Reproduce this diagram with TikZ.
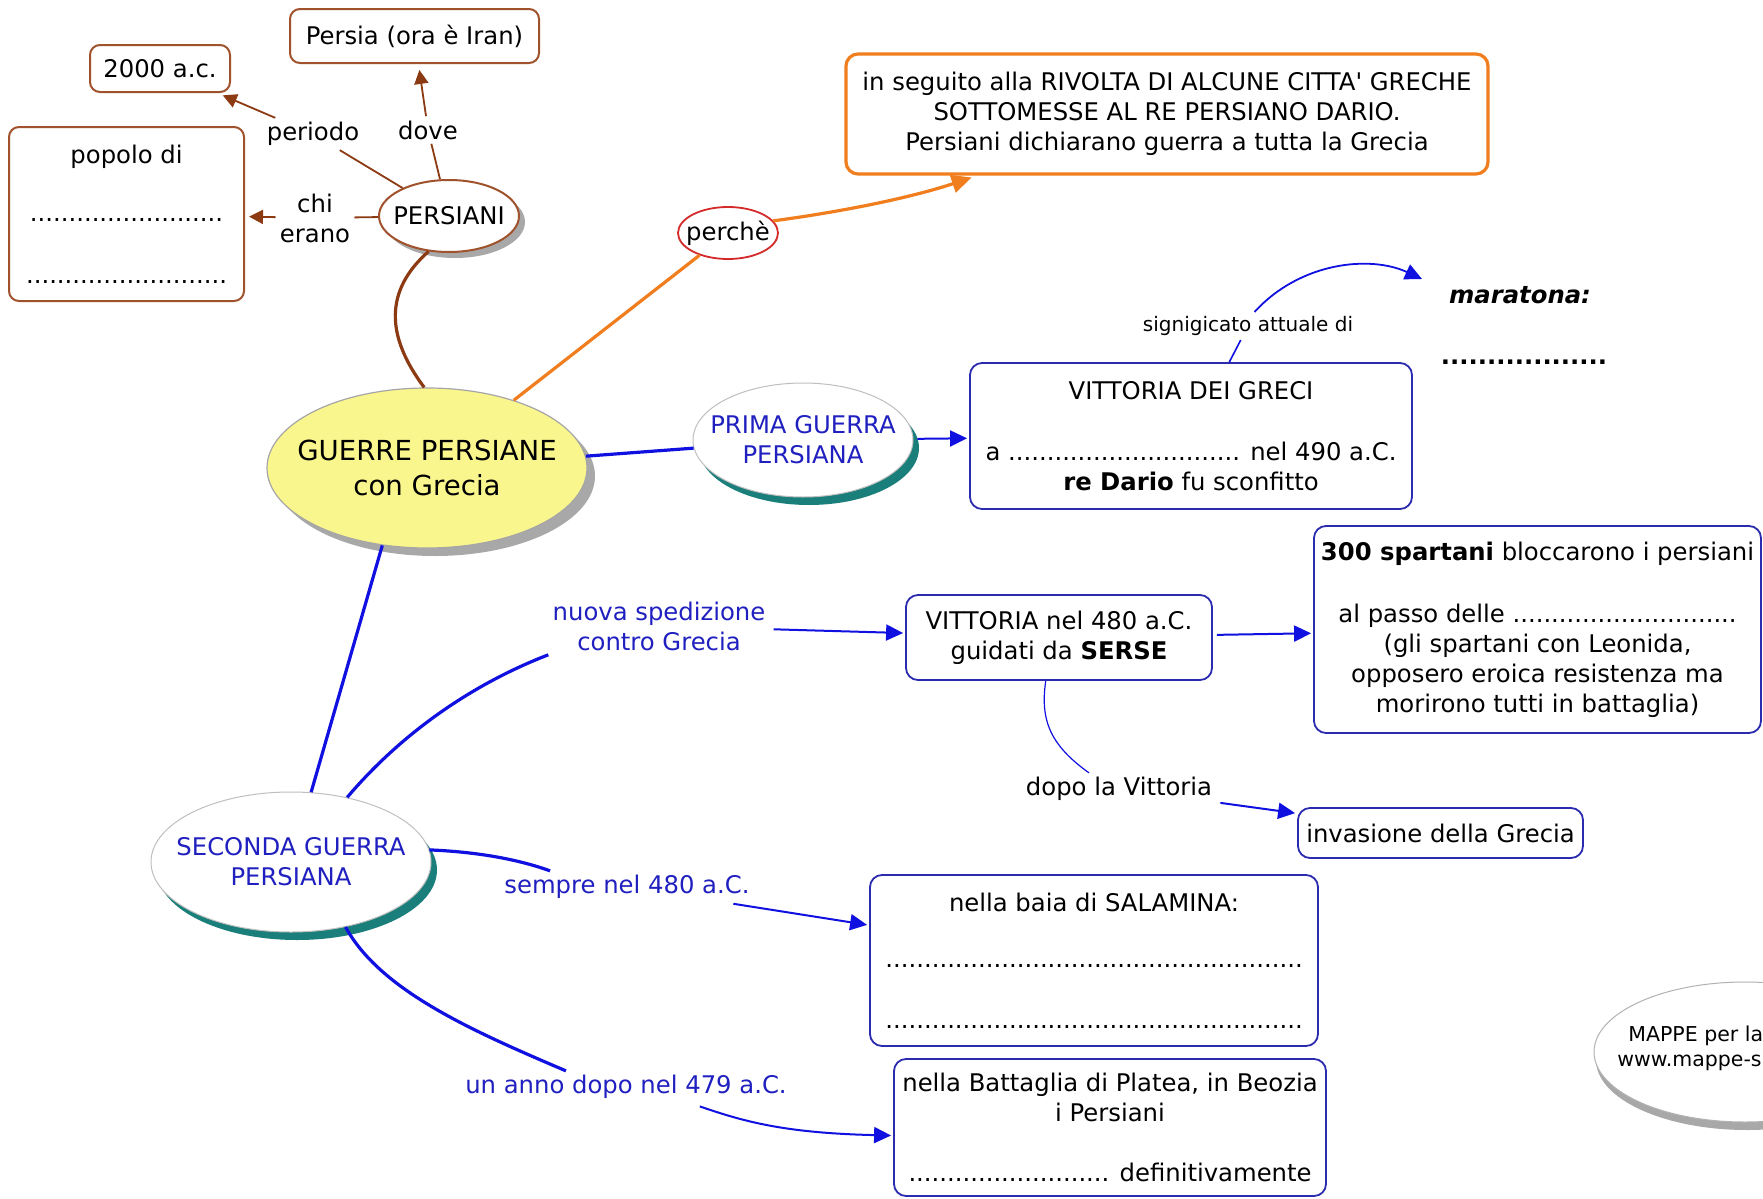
\documentclass[tikz,border=0pt]{standalone}
\usepackage{fontspec}
\setmainfont{DejaVu Sans}
\newfontfamily\rawq{DejaVu Sans}[Ligatures=TeXOff]
\usetikzlibrary{shapes.geometric,arrows.meta,shadows,calc}
\definecolor{brn}{HTML}{8B3A12}
\definecolor{brnbox}{HTML}{A0522D}
\definecolor{org}{HTML}{F07D1E}
\definecolor{redc}{HTML}{D42A2A}
\definecolor{bluel}{HTML}{1010E0}
\definecolor{blueb}{HTML}{2B2BB0}
\definecolor{bluet}{HTML}{2020C0}
\definecolor{yel}{HTML}{FAF68E}
\definecolor{tealsh}{HTML}{1A7F7A}
\definecolor{shgrey}{HTML}{A8A8A8}
\begin{document}
\begin{tikzpicture}[x=0.5pt,y=-0.5pt,
 every node/.style={font=\fontsize{12.15pt}{15pt}\selectfont, inner sep=0pt},
 brownbox/.style={draw=brnbox, line width=1pt, rounded corners=5pt, fill=white, align=center},
 bluebox/.style={draw=blueb, line width=0.9pt, rounded corners=6pt, fill=white, align=center},
 lbl/.style={inner sep=2pt, align=center},
 blbl/.style={lbl, text=bluet},
 bline/.style={draw=bluel, line width=1.6pt},
 barrow/.style={draw=bluel, line width=1pt, -{Triangle[length=8.5pt,width=8pt]}, shorten <=2pt, shorten >=1pt},
 brline/.style={draw=brn, line width=0.9pt},
 brarrow/.style={brline, -{Triangle[length=7pt,width=7pt]}},
 greyshadow/.style={drop shadow={shadow xshift=3pt, shadow yshift=-3pt, fill=shgrey, opacity=1}},
 tealshadow/.style={drop shadow={shadow xshift=3pt, shadow yshift=-4pt, fill=tealsh, opacity=1}},
]
\path[use as bounding box, fill=white] (0,0) rectangle (1763,1199);

% ---------- brown part ----------
\node[brownbox, minimum width=70pt, minimum height=23.5pt] (b2000) at (160,68.5) {2000 a.c.};
\node[brownbox, minimum width=124.5pt, minimum height=27pt] (persia) at (414.5,36) {Persia (ora è Iran)};
\node[brownbox, minimum width=117.5pt, minimum height=87pt] (popolo) at (126.5,214)
  {popolo di\\[14pt] .........................\\[16pt] ..........................};
\node[ellipse, draw=brnbox, line width=1pt, fill=white, minimum width=70pt, minimum height=36pt, inner xsep=-5pt, greyshadow] (persiani) at (449,216) {PERSIANI};
\node[lbl] (periodo) at (313,134) {periodo};
\node[lbl] (dove) at (428,130) {dove};
\node[lbl] (chi) at (315,218) {chi\\erano};

\draw[brline] (persiani) -- (periodo);
\draw[brarrow, shorten >=3pt] (periodo) -- (b2000);
\draw[brline] (persiani) -- (dove);
\draw[brarrow, shorten >=3pt] (dove) -- (persia);
\draw[brline] (persiani) -- (chi);
\draw[brarrow, shorten >=2pt] (chi) -- (popolo);

% ---------- central ----------
\node[ellipse, draw=gray!70, line width=0.6pt, fill=yel, minimum width=160pt, minimum height=80pt, inner xsep=-11pt,
  drop shadow={shadow xshift=4pt, shadow yshift=-4pt, fill=shgrey, opacity=1},
  align=center, font=\fontsize{13.8pt}{17.5pt}\selectfont] (guerre) at (427,468) {GUERRE PERSIANE\\con Grecia};

\draw[brn, line width=1.6pt] (persiani.240) .. controls (385,290) and (385,335) .. (guerre.92);

% ---------- orange ----------
\node[ellipse, draw=redc, line width=0.9pt, fill=white, minimum width=50pt, minimum height=26pt, inner xsep=-5pt] (perche) at (728,233) {perchè};
\node[draw=org, line width=1.6pt, rounded corners=6pt, fill=white, align=center, minimum width=321pt, minimum height=60pt] (orange) at (1167,114)
  {in seguito alla RIVOLTA DI ALCUNE CITTA{\rawq '} GRECHE\\ SOTTOMESSE AL RE PERSIANO DARIO.\\ Persiani dichiarano guerra a tutta la Grecia};
\draw[org, line width=1.6pt] (guerre) -- (perche);
\draw[org, line width=1.6pt, -{Triangle[length=10pt,width=9pt]}, shorten >=3pt] (perche.15) .. controls (840,212) and (910,198) .. (orange.198);

% ---------- prima guerra ----------
\node[ellipse, draw=gray!50, line width=0.5pt, fill=white, minimum width=110pt, minimum height=57pt, inner xsep=-10pt, tealshadow, align=center, text=bluet] (prima) at (803,440) {PRIMA GUERRA\\PERSIANA};
\node[bluebox, minimum width=221pt, minimum height=73pt] (greci) at (1191,436)
  {VITTORIA DEI GRECI\\[15.5pt] a .............................. nel 490 a.C.\\ \textbf{re Dario} fu sconfitto};
\node[lbl, font=\fontsize{10pt}{12pt}\selectfont] (sig) at (1248,326) {signigicato attuale di};
\node (maratona) at (1520,295) {\textbf{\textit{maratona:}}};
\node (mdots) at (1524,362) {\textbf{..................}};
\coordinate (mtip) at (1422,279);

\draw[bline] (guerre) -- (prima);
\draw[barrow] (prima) -- (greci);
\draw[bluel, line width=0.8pt] (greci) -- (sig);
\draw[bluel, line width=0.9pt, -{Triangle[length=8.5pt,width=8pt]}] (sig.65) .. controls (1300,262) and (1370,255) .. (mtip);

% ---------- seconda guerra ----------
\node[ellipse, draw=gray!50, line width=0.5pt, fill=white, minimum width=140pt, minimum height=70pt, inner xsep=-11pt, tealshadow, align=center, text=bluet] (seconda) at (291,862) {SECONDA GUERRA\\PERSIANA};
\draw[bline] (guerre.240) -- (seconda);

\node[blbl] (nuova) at (659,626) {nuova spedizione\\contro Grecia};
\node[bluebox, minimum width=153pt, minimum height=42.5pt] (serse) at (1059,637.5) {VITTORIA nel 480 a.C.\\guidati da \textbf{SERSE}};
\node[bluebox, minimum width=223.5pt, minimum height=103.5pt] (spartani) at (1537.5,629.5)
  {\textbf{300 spartani} bloccarono i persiani\\[16pt] al passo delle .............................\\ (gli spartani con Leonida,\\ opposero eroica resistenza ma\\ morirono tutti in battaglia)};
\node[lbl] (dopo) at (1119,789) {dopo la Vittoria};
\node[bluebox, minimum width=142.5pt, minimum height=25pt] (invasione) at (1440.5,833) {invasione della Grecia};

\draw[bline] (seconda.49) .. controls (400,735) and (470,685) .. (nuova.south west);
\draw[barrow] (nuova) -- (serse);
\draw[barrow] (serse) -- (spartani);
\draw[bluel, line width=0.6pt] (serse.253) .. controls (1040,720) and (1050,745) .. ($(dopo.north)+(-30,0)$);
\draw[barrow] (dopo) -- (invasione);

\node[blbl] (sempre) at (627,887) {sempre nel 480 a.C.};
\node[bluebox, minimum width=224pt, minimum height=85.5pt] (salamina) at (1094,960.5)
  {nella baia di SALAMINA:\\[13pt] ......................................................\\[15.5pt] ......................................................};
\draw[bline] (seconda.5) .. controls (480,852) and (520,860) .. ($(sempre.north west)+(50,0)$);
\draw[barrow] (sempre) -- (salamina);

\node[blbl] (unanno) at (626,1087) {un anno dopo nel 479 a.C.};
\node[bluebox, minimum width=216pt, minimum height=68.5pt] (platea) at (1110,1127.5)
  {nella Battaglia di Platea, in Beozia\\ i Persiani\\[15pt] .......................... definitivamente};
\draw[bline] (seconda.-50) .. controls (380,990) and (470,1030) .. ($(unanno.north west)+(105,0)$);
\draw[barrow] ($(unanno.south)+(70,2)$) .. controls (740,1120) and (780,1133) .. ($(platea.west)+(0,8)$);

% ---------- logo ellipse (cut by the border) ----------
\begin{scope}
\clip (0,0) rectangle (1763,1199);
\node[ellipse, draw=gray!60, line width=0.5pt, fill=white, minimum width=151pt, minimum height=70pt,
  drop shadow={shadow xshift=1pt, shadow yshift=-4pt, fill=shgrey, opacity=1}] (mappe) at (1745,1052) {};
\node[anchor=west, font=\fontsize{10.25pt}{12pt}\selectfont] (mappe1) at (1628,1036) {MAPPE per la};
\node[anchor=west, font=\fontsize{10.25pt}{12pt}\selectfont] (mappe2) at (1617,1063) {www.mappe-s};
\end{scope}
\end{tikzpicture}
\end{document}
